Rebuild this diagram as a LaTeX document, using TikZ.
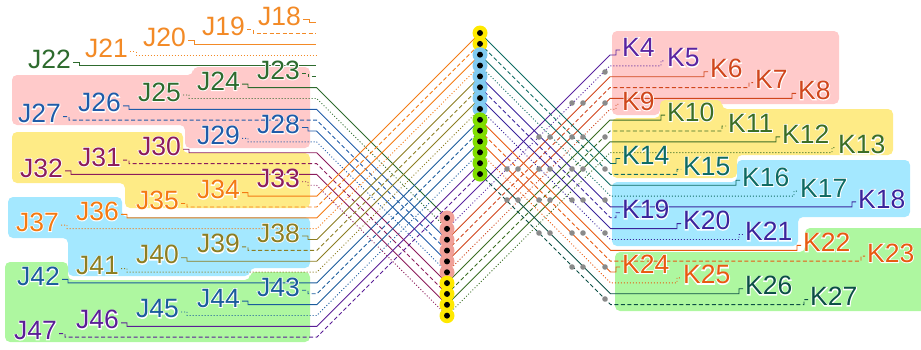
\documentclass[tikz,border=0pt]{standalone}
\usepackage{fontspec}
\setmainfont{Liberation Sans}
\newfontfamily\halofont{Liberation Sans}[FakeBold=6]
\newcommand\halo[1]{\makebox[0pt][l]{\halofont\color{white}#1}#1}
\definecolor{jor}{HTML}{F38A26}
\definecolor{jgr}{HTML}{2E6B2E}
\definecolor{jbl}{HTML}{1F5BA8}
\definecolor{jmr}{HTML}{8C1C5C}
\definecolor{jo2}{HTML}{F47A12}
\definecolor{jol}{HTML}{8C7E22}
\definecolor{jb2}{HTML}{1A5C9C}
\definecolor{jpu}{HTML}{5A1E96}
\definecolor{kpu}{HTML}{5A24A0}
\definecolor{krd}{HTML}{D0461C}
\definecolor{kgr}{HTML}{3B6E24}
\definecolor{ktl}{HTML}{0E6B62}
\definecolor{kin}{HTML}{3A249C}
\definecolor{kor}{HTML}{E85A10}
\definecolor{kdt}{HTML}{0B4F45}
\definecolor{bgpink}{HTML}{FFCACA}
\definecolor{bgyel}{HTML}{FEEB86}
\definecolor{bgcyan}{HTML}{A4E8FF}
\definecolor{bggreen}{HTML}{AEF7A0}
\definecolor{pyel}{HTML}{FFE900}
\definecolor{pblue}{HTML}{80CAF0}
\definecolor{pgreen}{HTML}{80DD00}
\definecolor{ppink}{HTML}{F0A098}
\definecolor{dotgray}{HTML}{8A8A8A}
\pgfdeclarelayer{bg}
\pgfdeclarelayer{wires}
\pgfsetlayers{bg,wires,main}
\begin{document}
\begin{tikzpicture}[x=1pt,y=-1pt,
  wsolid/.style={line width=0.9pt},
  wdash/.style={line width=0.9pt,dash pattern=on 4pt off 2.5pt},
  wdot/.style={line width=0.9pt,dash pattern=on 1pt off 2pt},
  lab/.style={inner sep=0pt,font=\fontsize{26.5}{27}\selectfont},
  pinc/.style={circle,inner sep=0pt,minimum size=15pt},
  bgshape/.style={rounded corners=5pt}]
\useasboundingbox (0,0) rectangle (921,349);

% backgrounds
\begin{pgfonlayer}{bg}
\fill[bgpink,bgshape] (12,75) -- (193,75) -- (193,67) -- (310,67) -- (310,148) -- (185,148) -- (185,125) -- (12,125) -- cycle;
\fill[bgyel,bgshape] (12,132) -- (183,132) -- (183,153) -- (310,153) -- (310,208) -- (125,208) -- (125,183) -- (12,183) -- cycle;
\fill[bgcyan,bgshape] (8,197) -- (122,197) -- (122,217) -- (310,217) -- (310,268) -- (250,268) -- (250,276) -- (68,276) -- (68,238) -- (8,238) -- cycle;
\fill[bggreen,bgshape] (5,262) -- (68,262) -- (68,280) -- (250,280) -- (250,272) -- (310,272) -- (310,342) -- (5,342) -- cycle;
\fill[bgpink,bgshape] (612,31) -- (839,31) -- (839,104) -- (660,104) -- (660,115) -- (612,115) -- cycle;
\fill[bgyel,bgshape] (612,118) -- (660,118) -- (660,100) -- (722,100) -- (722,109) -- (893,109) -- (893,155) -- (737,155) -- (737,178) -- (612,178) -- cycle;
\fill[bgcyan,bgshape] (612,182) -- (737,182) -- (737,160) -- (910,160) -- (910,217) -- (798,217) -- (798,246) -- (612,246) -- cycle;
\fill[bggreen,bgshape] (615,252) -- (805,252) -- (805,228) -- (935,228) -- (935,311) -- (615,311) -- cycle;
\end{pgfonlayer}

% connector pins
\foreach \n in {0,1} \node[pinc,fill=pyel] (T\n) at (480,{33+10.85*\n}) {};
\foreach \n in {2,...,7} \node[pinc,fill=pblue] (T\n) at (480,{33+10.85*\n}) {};
\foreach \n in {8,...,13} \node[pinc,fill=pgreen] (T\n) at (480,{33+10.85*\n}) {};
\foreach \m in {0,...,5} \node[pinc,fill=ppink] (B\m) at (447,{218+10.85*\m}) {};
\foreach \m in {6,...,9} \node[pinc,fill=pyel] (B\m) at (447,{218+10.85*\m}) {};
\foreach \n in {0,...,13} \fill (T\n.center) circle (3pt);
\foreach \m in {0,...,9} \fill (B\m.center) circle (3pt);

% gray splice dots
\foreach \x/\y in {605/72, 572/103,583/103,605/103,
  539/137,550/137,572/137,583/137,605/137,
  507/169,518/169,539/169,550/169,572/169,583/169,605/169,
  507/200,518/200,539/200,550/200,572/200,583/200,605/200,
  539/233,550/233,572/233,583/233,605/233,
  572/267,583/267,605/267, 605/299}
  \fill[dotgray] (\x,\y) circle (2.8pt);

% left labels and wires
\foreach \j/\n/\rx/\c/\s in {0/18/301/jor/wsolid,1/19/245/jor/wdash,2/20/186/jor/wsolid,3/21/128/jor/wdot,
  4/22/71/jgr/wsolid,5/23/300/jgr/wdash,6/24/240/jgr/wsolid,7/25/181/jgr/wdot,
  8/26/121/jbl/wsolid,9/27/61/jbl/wdash,10/28/300/jbl/wsolid,11/29/240/jbl/wdot,
  12/30/181/jmr/wsolid,13/31/121/jmr/wdash,14/32/63/jmr/wsolid,15/33/300/jmr/wdot,
  16/34/240/jo2/wsolid,17/35/179/jo2/wdash,18/36/119/jo2/wsolid,19/37/59/jo2/wdot,
  20/38/300/jol/wsolid,21/39/240/jol/wdash,22/40/179/jol/wsolid,23/41/119/jol/wdot,
  24/42/60/jb2/wsolid,25/43/300/jb2/wdash,26/44/240/jb2/wsolid,27/45/179/jb2/wdot,
  28/46/119/jpu/wsolid,29/47/57/jpu/wdash}{
  \pgfmathsetmacro\ly{16+10.85*\j}
  \pgfmathsetmacro\wy{22.5+10.85*\j}
  \node[lab,text=\c,anchor=east] (J\n) at (\rx,\ly) {\halo{J\n}};
  \begin{pgfonlayer}{wires}
  \ifnum\j<6
    \coordinate (E\n) at (316,\wy);
    \draw[\c,\s] ([shift={(2,3)}]J\n.east) -- ++(6,0) |- (E\n);
  \else\ifnum\j<16
    \pgfmathtruncatemacro\m{\j-6}
    \draw[\c,\s] ([shift={(2,3)}]J\n.east) -- ++(6,0) |- (316.6,\wy) -- (B\m.center);
  \else
    \pgfmathtruncatemacro\m{\j-16}
    \draw[\c,\s] ([shift={(2,3)}]J\n.east) -- ++(6,0) |- (316.9,\wy) -- (T\m.center);
  \fi\fi
  \end{pgfonlayer}
}

% right labels and wires
\foreach \k/\n/\lx/\c/\s in {0/4/622/kpu/wsolid,1/5/667/kpu/wdot,2/6/710/krd/wsolid,3/7/755/krd/wdash,
  4/8/798/krd/wsolid,5/9/622/krd/wdot,6/10/667/kgr/wsolid,7/11/728/kgr/wdash,
  8/12/782/kgr/wsolid,9/13/838/kgr/wdot,10/14/622/ktl/wsolid,11/15/683/ktl/wdash,
  12/16/742/ktl/wsolid,13/17/800/ktl/wdot,14/18/858/kin/wsolid,15/19/622/kin/wdash,
  16/20/683/kin/wsolid,17/21/745/kin/wdot,18/22/803/kor/wsolid,19/23/867/kor/wdash,
  20/24/622/kor/wsolid,21/25/683/kor/wdot,22/26/745/kdt/wsolid,23/27/810/kdt/wdash}{
  \pgfmathsetmacro\ly{47+10.85*\k}
  \pgfmathsetmacro\wy{55+10.85*\k}
  \node[lab,text=\c,anchor=west] (K\n) at (\lx,\ly) {\halo{K\n}};
  \begin{pgfonlayer}{wires}
  \ifnum\k<10
    \draw[\c,\s] (B\k.center) -- (610,\wy) -| ([shift={(-6,3)}]K\n.west) -- ([shift={(-2,3)}]K\n.west);
  \else
    \pgfmathtruncatemacro\m{\k-10}
    \draw[\c,\s] (T\m.center) -- (610.5,\wy) -| ([shift={(-6,3)}]K\n.west) -- ([shift={(-2,3)}]K\n.west);
  \fi
  \end{pgfonlayer}
}
\end{tikzpicture}
\end{document}
